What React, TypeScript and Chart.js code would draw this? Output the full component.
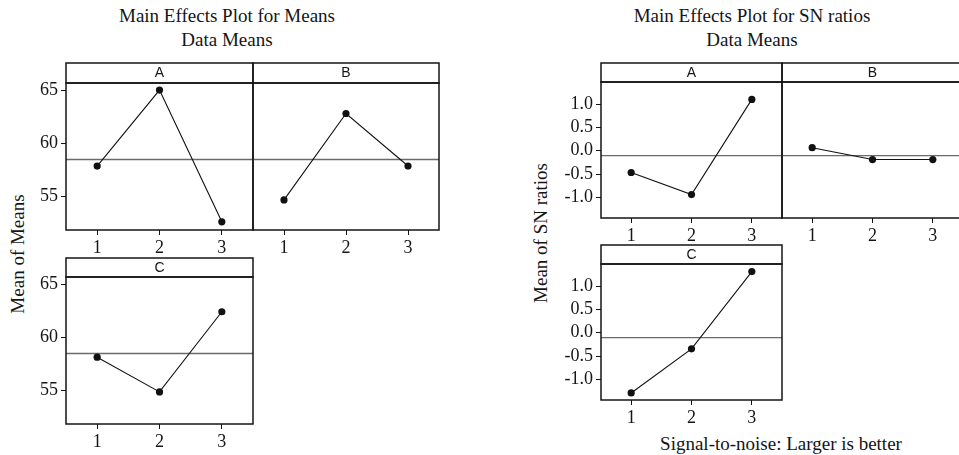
import React, { useEffect, useRef } from 'react';
import { Chart, registerables } from 'chart.js';

Chart.register(...registerables);

// ---- data ----
const levels = [1, 2, 3];
const meansA = [57.87, 65.0, 52.64];
const meansB = [54.69, 62.8, 57.87];
const meansC = [58.14, 54.88, 62.4];
const snA = [-0.467, -0.94, 1.1];
const snB = [0.065, -0.19, -0.19];
const snC = [-1.292, -0.346, 1.31];
const meansYTicks = [55, 60, 65];
const snYTicks = [-1.0, -0.5, 0.0, 0.5, 1.0];
const meansYRange = [51.87, 65.66];
const snYRange = [-1.443, 1.473];
const xRange = [0.5, 3.5];

const titleMeans = ['Main Effects Plot for Means', 'Data Means'];
const titleSN = ['Main Effects Plot for SN ratios', 'Data Means'];
const yTitleMeans = 'Mean of Means';
const yTitleSN = 'Mean of SN ratios';
const footerSN = 'Signal-to-noise: Larger is better';

const avg = (arr: number[]) => arr.reduce((s, v) => s + v, 0) / arr.length;
const grandMeans = avg([...meansA, ...meansB, ...meansC]);
const grandSN = avg([...snA, ...snB, ...snC]);

// ---- layout ----
const SERIF = '"Liberation Serif", "Times New Roman", serif';
const SANS = '"Liberation Sans", Arial, sans-serif';
const Y_W = 60;
const X_H = 32;
const T_PAD = 2;
const R_PAD = 4;
const INK = '#151515';

type Geom = { x: number; y: number; w: number; h: number; hh: number };

const framePlugin = {
  id: 'panelFrame',
  afterDraw(chart: any) {
    const { ctx, chartArea: a } = chart;
    const tb = chart.titleBlock;
    ctx.save();
    ctx.strokeStyle = INK;
    ctx.lineWidth = 1.5;
    ctx.strokeRect(a.left, a.top, a.right - a.left, a.bottom - a.top);
    if (tb) ctx.strokeRect(a.left, tb.top, a.right - a.left, a.top - tb.top);
    ctx.restore();
  },
};

function Panel(props: {
  name: string;
  values: number[];
  grand: number;
  yTicks: number[];
  yRange: number[];
  fmt: (v: number) => string;
  showY: boolean;
  g: Geom;
}) {
  const { name, values, grand, yTicks, yRange, fmt, showY, g } = props;
  const ref = useRef<HTMLCanvasElement>(null);
  const left = g.x - Y_W;
  const top = g.y - g.hh - T_PAD;
  const width = Y_W + g.w + R_PAD;
  const height = T_PAD + g.hh + g.h + X_H;

  useEffect(() => {
    if (!ref.current) return;
    const tickFont = { family: SERIF, size: 18 };
    const chart = new Chart(ref.current, {
      type: 'line',
      data: {
        datasets: [
          {
            data: values.map((v, i) => ({ x: levels[i], y: v })),
            borderColor: '#111',
            borderWidth: 1.1,
            pointRadius: 3.6,
            pointBackgroundColor: '#111',
            pointBorderWidth: 0,
            order: 0,
          },
          {
            data: xRange.map((x) => ({ x, y: grand })),
            borderColor: '#6a6a6a',
            borderWidth: 1.4,
            pointRadius: 0,
            order: 1,
          },
        ],
      },
      options: {
        responsive: false,
        animation: false,
        devicePixelRatio: 1,
        layout: { padding: { top: T_PAD, left: 0, right: R_PAD, bottom: 0 } },
        plugins: {
          legend: { display: false },
          tooltip: { enabled: false },
          title: {
            display: true,
            text: name,
            fullSize: false,
            color: INK,
            font: { family: SANS, size: 14, weight: 'normal', lineHeight: 1 },
            padding: { top: (g.hh - 14) / 2 + 0.5, bottom: (g.hh - 14) / 2 - 0.5 },
          },
        },
        scales: {
          x: {
            type: 'linear',
            min: xRange[0],
            max: xRange[1],
            afterBuildTicks: (s: any) => {
              s.ticks = levels.map((v) => ({ value: v }));
            },
            afterFit: (s: any) => {
              s.height = X_H;
            },
            grid: { drawOnChartArea: false, tickLength: 5, color: INK, lineWidth: 1 },
            border: { display: false },
            ticks: {
              color: INK,
              font: tickFont,
              padding: 2,
              autoSkip: false,
              maxRotation: 0,
              callback: (v: any) => String(v),
            },
          },
          y: {
            display: showY,
            type: 'linear',
            min: yRange[0],
            max: yRange[1],
            afterBuildTicks: (s: any) => {
              s.ticks = yTicks.map((v) => ({ value: v }));
            },
            afterFit: (s: any) => {
              s.width = Y_W;
            },
            grid: { drawOnChartArea: false, tickLength: 5, color: INK, lineWidth: 1 },
            border: { display: false },
            ticks: {
              color: INK,
              font: tickFont,
              padding: 3,
              autoSkip: false,
              callback: (v: any) => fmt(Number(v)),
            },
          },
        },
      } as any,
      plugins: [framePlugin],
    });
    return () => chart.destroy();
  }, []);

  return (
    <canvas
      ref={ref}
      width={width}
      height={height}
      style={{ position: 'absolute', left, top, width, height }}
    />
  );
}

const fmtMeans = (v: number) => String(v);
const fmtSN = (v: number) => v.toFixed(1);

function Title({ lines, cx }: { lines: string[]; cx: number }) {
  return (
    <div
      style={{
        position: 'absolute',
        left: cx,
        top: 4.3,
        transform: 'translateX(-50%)',
        textAlign: 'center',
        whiteSpace: 'nowrap',
        fontSize: 19,
        lineHeight: '24px',
      }}
    >
      {lines.map((l) => (
        <div key={l}>{l}</div>
      ))}
    </div>
  );
}

function YTitle({ text, cx, cy }: { text: string; cx: number; cy: number }) {
  return (
    <div
      style={{
        position: 'absolute',
        left: cx,
        top: cy,
        transform: 'translate(-50%, -50%) rotate(-90deg)',
        whiteSpace: 'nowrap',
        fontSize: 19,
        lineHeight: '24px',
      }}
    >
      {text}
    </div>
  );
}

export default function App() {
  return (
    <div
      style={{
        position: 'absolute',
        left: 0,
        top: 0,
        width: 959,
        height: 455,
        overflow: 'hidden',
        background: '#fff',
        fontFamily: SERIF,
        color: INK,
      }}
    >
      <Title lines={titleMeans} cx={227} />
      <Title lines={titleSN} cx={752} />
      <YTitle text={yTitleMeans} cx={18} cy={254} />
      <YTitle text={yTitleSN} cx={541} cy={233} />
      <div
        style={{
          position: 'absolute',
          left: 781,
          top: 432.3,
          transform: 'translateX(-50%)',
          whiteSpace: 'nowrap',
          fontSize: 19,
          lineHeight: '24px',
        }}
      >
        {footerSN}
      </div>

      <Panel name="A" values={meansA} grand={grandMeans} yTicks={meansYTicks} yRange={meansYRange} fmt={fmtMeans} showY={true} g={{ x: 66, y: 83, w: 187, h: 147, hh: 20 }} />
      <Panel name="B" values={meansB} grand={grandMeans} yTicks={meansYTicks} yRange={meansYRange} fmt={fmtMeans} showY={false} g={{ x: 253, y: 83, w: 186, h: 147, hh: 20 }} />
      <Panel name="C" values={meansC} grand={grandMeans} yTicks={meansYTicks} yRange={meansYRange} fmt={fmtMeans} showY={true} g={{ x: 66, y: 277, w: 187, h: 147, hh: 19 }} />

      <Panel name="A" values={snA} grand={grandSN} yTicks={snYTicks} yRange={snYRange} fmt={fmtSN} showY={true} g={{ x: 601, y: 82, w: 181, h: 136, hh: 19 }} />
      <Panel name="B" values={snB} grand={grandSN} yTicks={snYTicks} yRange={snYRange} fmt={fmtSN} showY={false} g={{ x: 782, y: 82, w: 181, h: 136, hh: 19 }} />
      <Panel name="C" values={snC} grand={grandSN} yTicks={snYTicks} yRange={snYRange} fmt={fmtSN} showY={true} g={{ x: 601, y: 264, w: 181, h: 136, hh: 19 }} />
    </div>
  );
}
